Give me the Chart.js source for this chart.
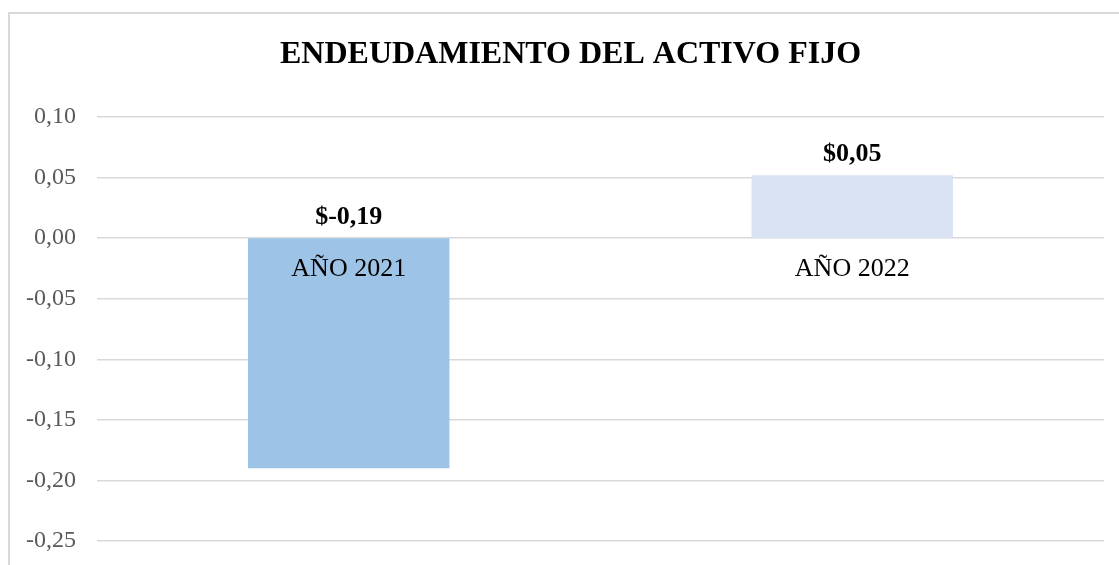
<!DOCTYPE html>
<html>
<head>
<meta charset="utf-8">
<script src="https://cdn.jsdelivr.net/npm/chart.js@4/dist/chart.umd.min.js"></script>
<style>
  html, body { margin: 0; padding: 0; background: #fff; overflow: hidden; }
  #wrap { position: relative; width: 1119px; height: 565px; }
  #frame { position: absolute; left: 8px; top: 12px; width: 1200px; height: 600px; border: 2px solid #D9D9D9; box-sizing: border-box; }
  canvas { position: absolute; left: 0; top: 0; }
</style>
</head>
<body>
<div id="wrap">
  <div id="frame"></div>
  <canvas id="c" width="1119" height="565"></canvas>
</div>
<script>
const titleText = 'ENDEUDAMIENTO DEL ACTIVO FIJO';
const categories = ['AÑO 2021', 'AÑO 2022'];
const values = [-0.19, 0.052];
const barColors = ['#9DC3E6', '#DAE3F3'];
const yMin = -0.25;
const yMax = 0.10;
const yStep = 0.05;

const fmt = v => (Math.abs(v) < 1e-9 ? 0 : v).toFixed(2).replace('.', ',');

const titlePlugin = {
  id: 'customTitle',
  afterDraw(chart) {
    const ctx = chart.ctx;
    ctx.save();
    ctx.font = 'bold 32px "Liberation Serif"';
    ctx.fillStyle = '#000';
    ctx.textAlign = 'center';
    ctx.textBaseline = 'middle';
    ctx.fillText(titleText, 570.5, 54.5);
    ctx.restore();
  }
};

const dataLabels = {
  id: 'dataLabels',
  afterDatasetsDraw(chart) {
    const ctx = chart.ctx;
    const meta = chart.getDatasetMeta(0);
    ctx.save();
    ctx.font = 'bold 26px "Liberation Serif"';
    ctx.fillStyle = '#000';
    ctx.textAlign = 'center';
    ctx.textBaseline = 'middle';
    meta.data.forEach((bar, i) => {
      const top = Math.min(bar.y, bar.base);
      ctx.fillText('$' + fmt(values[i]), bar.x, top - 21);
    });
    ctx.restore();
  }
};

new Chart(document.getElementById('c'), {
  type: 'bar',
  data: {
    labels: categories,
    datasets: [{
      data: values,
      backgroundColor: barColors,
      borderWidth: 0,
      categoryPercentage: 1.0,
      barPercentage: 0.4
    }]
  },
  options: {
    responsive: false,
    animation: false,
    devicePixelRatio: 1,
    layout: { padding: { left: 0, right: 15, top: 117, bottom: 24 } },
    plugins: {
      legend: { display: false },
      tooltip: { enabled: false },
      title: { display: false }
    },
    scales: {
      x: {
        position: { y: 0 },
        afterFit(scale) { scale.height = 0; },
        grid: { display: false, drawTicks: false },
        border: { display: false },
        ticks: {
          z: 1,
          color: '#000',
          font: { family: 'Liberation Serif', size: 26 },
          padding: 15
        }
      },
      y: {
        min: yMin,
        max: yMax,
        afterFit(scale) { scale.width = 97; scale.paddingTop = 0; scale.paddingBottom = 0; },
        grid: { color: '#D9D9D9', lineWidth: 1.5, drawTicks: false },
        border: { display: false },
        ticks: {
          stepSize: yStep,
          color: '#595959',
          padding: 21,
          font: { family: 'Liberation Serif', size: 24 },
          callback: v => fmt(v)
        }
      }
    }
  },
  plugins: [dataLabels, titlePlugin]
});
</script>
</body>
</html>
